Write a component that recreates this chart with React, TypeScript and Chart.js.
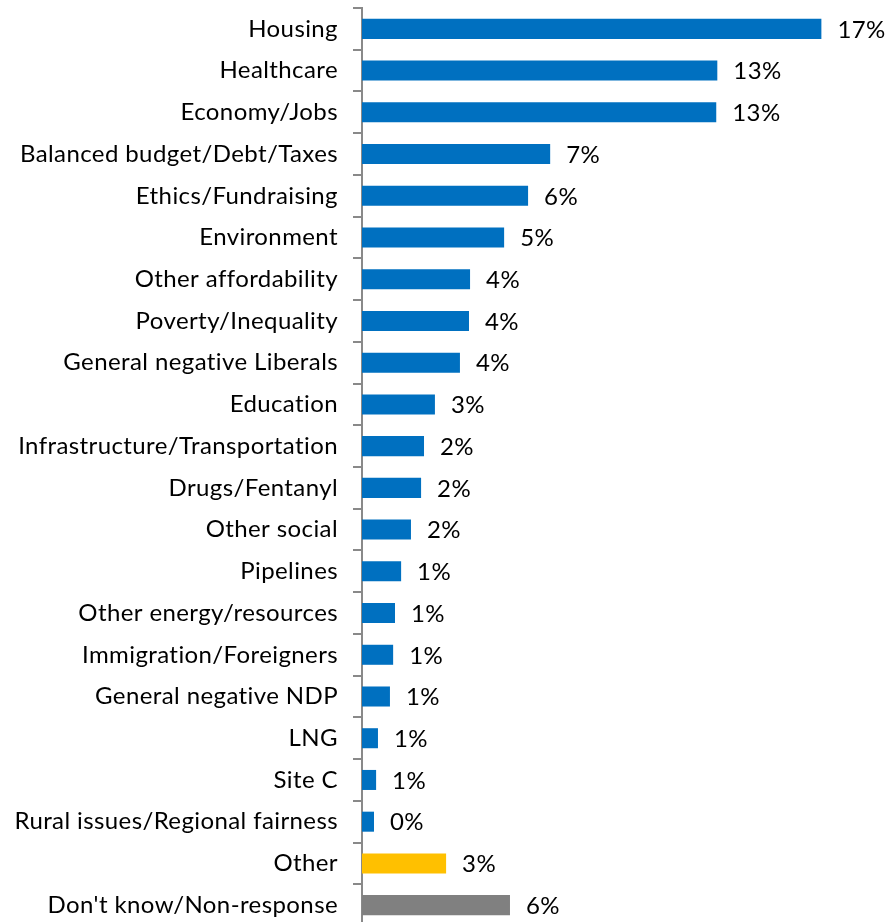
import React, { useEffect, useRef } from "react";
import { Chart, registerables } from "chart.js";

Chart.register(...registerables);

const categories = [
  "Housing",
  "Healthcare",
  "Economy/Jobs",
  "Balanced budget/Debt/Taxes",
  "Ethics/Fundraising",
  "Environment",
  "Other affordability",
  "Poverty/Inequality",
  "General negative Liberals",
  "Education",
  "Infrastructure/Transportation",
  "Drugs/Fentanyl",
  "Other social",
  "Pipelines",
  "Other energy/resources",
  "Immigration/Foreigners",
  "General negative NDP",
  "LNG",
  "Site C",
  "Rural issues/Regional fairness",
  "Other",
  "Don't know/Non-response",
];

const values = [
  17.26, 13.35, 13.31, 7.07, 6.24, 5.34, 4.06, 4.02, 3.68, 2.74, 2.33, 2.22,
  1.84, 1.47, 1.24, 1.17, 1.05, 0.6, 0.53, 0.45, 3.16, 5.56,
];

const barColors = [
  ...Array(20).fill("#0070C0"),
  "#FFC000",
  "#808080",
];

const FONT = "Lato, 'Noto Sans', sans-serif";

const spacing = {
  id: "spacing",
  beforeDraw(chart: any) {
    (chart.ctx as any).letterSpacing = "0.4px";
  },
};

const valueLabels = {
  id: "valueLabels",
  afterDatasetsDraw(chart: any) {
    const ctx = chart.ctx;
    const meta = chart.getDatasetMeta(0);
    ctx.save();
    (ctx as any).letterSpacing = "0.4px";
    ctx.font = `24px ${FONT}`;
    ctx.fillStyle = "#000";
    ctx.textAlign = "left";
    ctx.textBaseline = "middle";
    meta.data.forEach((bar: any, i: number) => {
      const v = values[i];
      ctx.fillText(`${Math.round(v)}%`, bar.x + 16, bar.y + 1);
    });
    ctx.restore();
  },
};

export default function App() {
  const ref = useRef<HTMLCanvasElement | null>(null);

  useEffect(() => {
    if (!ref.current) return;
    const chart = new Chart(ref.current, {
      type: "bar",
      data: {
        labels: categories,
        datasets: [
          {
            data: values,
            backgroundColor: barColors,
            borderWidth: 0,
            barPercentage: 0.48,
            categoryPercentage: 1,
          },
        ],
      },
      options: {
        indexAxis: "y",
        responsive: false,
        animation: false,
        layout: { padding: { top: 8, bottom: 4, left: 0, right: 4 } },
        plugins: {
          legend: { display: false },
          tooltip: { enabled: false },
        },
        scales: {
          x: {
            display: false,
            min: 0,
            max: 19.5,
          },
          y: {
            afterFit: (scale: any) => {
              scale.width = 362;
              scale.paddingTop = 0;
              scale.paddingBottom = 0;
            },
            grid: {
              display: true,
              drawOnChartArea: false,
              drawTicks: true,
              tickLength: 9,
              color: "#898989",
              lineWidth: 2,
              offset: true,
            },
            border: { display: true, color: "#898989", width: 2 },
            ticks: {
              color: "#000",
              padding: 15,
              autoSkip: false,
              font: { family: FONT, size: 24 },
            },
          },
        },
      },
      plugins: [spacing, valueLabels],
    });
    return () => chart.destroy();
  }, []);

  return (
    <div
      style={{
        position: "absolute",
        left: 0,
        top: 0,
        width: 885,
        height: 922,
        overflow: "hidden",
        background: "#fff",
      }}
    >
      <canvas ref={ref} width={885} height={930} style={{ display: "block" }} />
    </div>
  );
}
